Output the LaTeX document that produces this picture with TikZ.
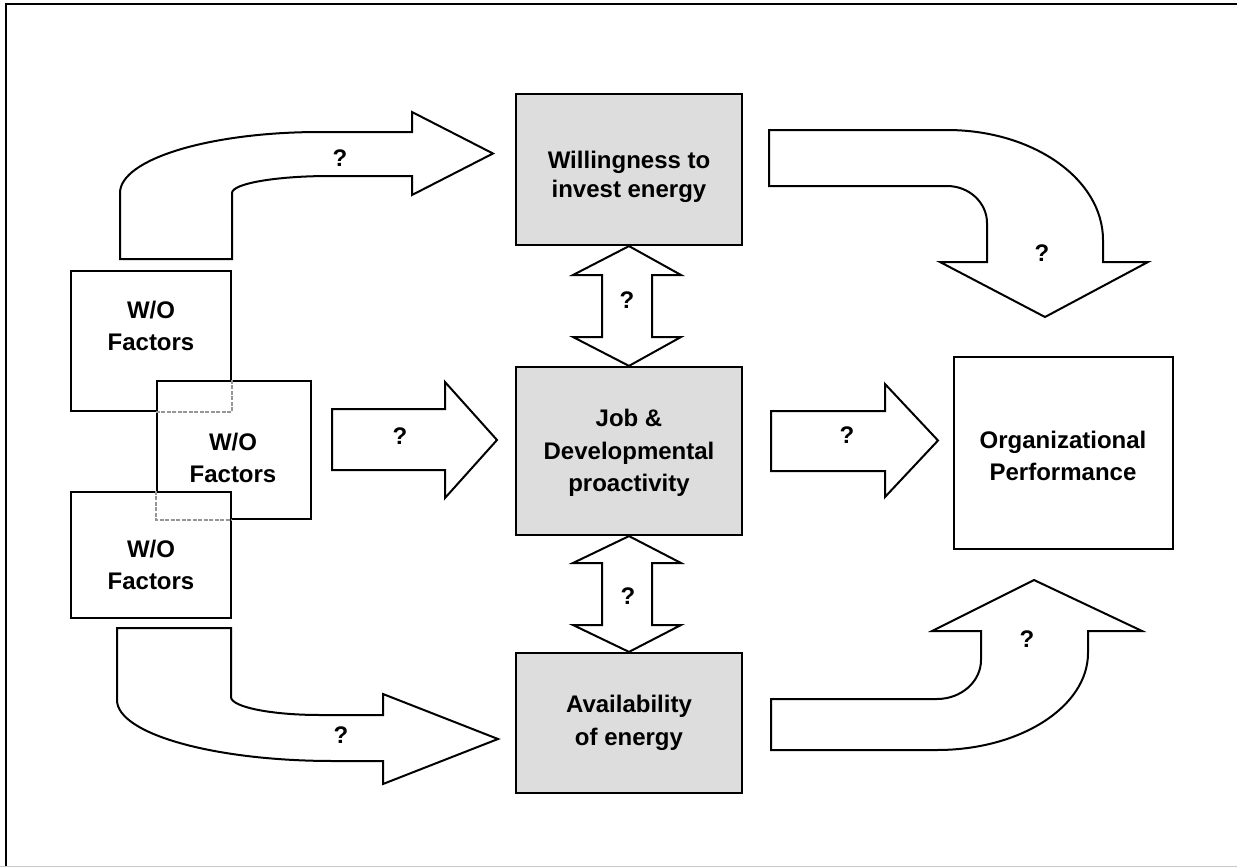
\documentclass[tikz,border=0pt]{standalone}
\usepackage{fontspec}
\setmainfont{Liberation Sans}
\usetikzlibrary{calc}
\definecolor{boxgray}{RGB}{221,221,221}
\definecolor{hiddengray}{RGB}{150,150,150}
\definecolor{framegray}{RGB}{200,200,200}

\begin{document}
\begin{tikzpicture}[x=1pt, y=-1pt,
  box/.style={draw=black, line width=2.2pt, rectangle, inner sep=0pt, fill=white},
  keybox/.style={box, fill=boxgray},
  boxtext/.style={font=\fontsize{24}{32.5}\selectfont\bfseries, align=center, inner sep=0pt},
  blockarrow/.style={draw=black, line width=2pt, fill=white, line join=miter},
  qmark/.style={font=\fontsize{24}{28}\selectfont\bfseries, inner sep=0pt},
  hiddenedge/.style={draw=hiddengray, line width=1.6pt, dash pattern=on 4pt off 1.5pt}]

\useasboundingbox (0,0) rectangle (1237,867);

% page frame
\draw[line width=1.8pt] (6,867) -- (6,4) -- (1237,4);
\draw[framegray, line width=1pt] (0,866) -- (1237,866);

% work/organisational factor boxes (stacked, later ones on top)
\node[box, minimum width=160pt, minimum height=140pt] (wo1) at (151,341) {};
\node[box, minimum width=154pt, minimum height=138pt] (wo2) at (234,450) {};
\node[box, minimum width=160pt, minimum height=126pt] (wo3) at (151,555) {};
% covered corners shown dashed
\draw[hiddenedge] (wo2.north west -| wo1.east) -- (wo1.south east) -- (wo1.south -| wo2.west);
\draw[hiddenedge] (wo3.north -| wo2.west) -- (wo2.south west) -- (wo2.south -| wo3.east);

% central outcome boxes
\node[keybox, minimum width=226pt, minimum height=151pt] (will) at (629,169.5) {};
\node[keybox, minimum width=226pt, minimum height=168pt] (job) at (629,451) {};
\node[keybox, minimum width=226pt, minimum height=140pt] (avail) at (629,723) {};
\node[box, minimum width=219pt, minimum height=192pt] (org) at (1063.5,453) {};

% box texts
\node[boxtext] (wo1t) at (151,326) {W/O\\Factors};
\node[boxtext] (wo2t) at (233,458) {W/O\\Factors};
\node[boxtext] (wo3t) at (151,565) {W/O\\Factors};
\node[boxtext, font=\fontsize{24}{29}\selectfont\bfseries] (willt) at (629,177) {Willingness to\\invest energy};
\node[boxtext] (jobt) at (629,453) {Job \&\\Developmental\\proactivity};
\node[boxtext] (availt) at (629,723) {Availability\\of energy};
\node[boxtext] (orgt) at (1063,456) {Organizational\\Performance};

% bent arrow: factors -> willingness
\draw[blockarrow] (120,259) -- (120,193)
  .. controls (120,159.3) and (209.5,132) .. (320,132)
  -- (412,132) -- (412,112) -- (493,153.5) -- (412,195) -- (412,176) -- (330,176)
  .. controls (275.9,176) and (232,183.6) .. (232,193)
  -- (232,259) -- cycle;

% bent arrow: factors -> availability
\draw[blockarrow] (117,628) -- (231,628) -- (231,697)
  .. controls (231,706.9) and (270.8,715) .. (320,715)
  -- (383,715) -- (383,694) -- (498,739) -- (383,784) -- (383,761) -- (333,761)
  .. controls (213.7,761) and (117,733.7) .. (117,700) -- cycle;

% bent arrow: willingness -> performance
\draw[blockarrow] (769,130) -- (947,130)
  .. controls (1033.2,130) and (1103,179.2) .. (1103,240)
  -- (1103,262) -- (1148,262) -- (1045,317) -- (940,262) -- (987,262) -- (987,223)
  .. controls (987,202.6) and (969.1,186) .. (947,186)
  -- (769,186) -- cycle;

% bent arrow: availability -> performance
\draw[blockarrow] (771,699) -- (937,699)
  .. controls (961.3,699) and (981,681.5) .. (981,660)
  -- (981,631) -- (932,631) -- (1034,580) -- (1142,631) -- (1088,631) -- (1088,653)
  .. controls (1088,706.6) and (1020.4,750) .. (937,750)
  -- (771,750) -- cycle;

% straight arrows
\draw[blockarrow] (332,409) -- (445,409) -- (445,382) -- (497,440) -- (445,498) -- (445,470) -- (332,470) -- cycle;
\draw[blockarrow] (771,411) -- (885,411) -- (885,384) -- (938,440.5) -- (885,497) -- (885,471) -- (771,471) -- cycle;

% double arrows between the central boxes
\draw[blockarrow] (will.south) -- (681,275) -- (652,275) -- (652,337) -- (681,337) -- (job.north)
  -- (573,337) -- (602,337) -- (602,275) -- (573,275) -- cycle;
\draw[blockarrow] (job.south) -- (681,563) -- (652,563) -- (652,625) -- (681,625) -- (avail.north)
  -- (573,625) -- (602,625) -- (602,563) -- (573,563) -- cycle;

% question marks on the arrows
\node[qmark] (q1) at (340,158) {?};
\node[qmark] (q2) at (400,436) {?};
\node[qmark] (q3) at (847,435) {?};
\node[qmark] (q4) at (627,300) {?};
\node[qmark] (q5) at (628,596) {?};
\node[qmark] (q6) at (1042,253) {?};
\node[qmark] (q7) at (341,735) {?};
\node[qmark] (q8) at (1027,639) {?};
\end{tikzpicture}
\end{document}
